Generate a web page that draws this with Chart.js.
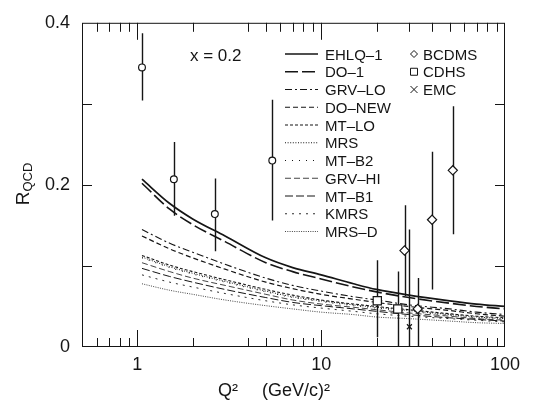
<!DOCTYPE html>
<html>
<head>
<meta charset="utf-8">
<script src="https://cdn.jsdelivr.net/npm/chart.js@4.4.1/dist/chart.umd.min.js"></script>
<style>
  html, body { margin: 0; padding: 0; background: #fff; }
  #wrap { width: 537px; height: 407px; }
</style>
</head>
<body>
<div id="wrap"><canvas id="grafico" width="537" height="407"></canvas></div>
<script>
// Q2 points where the QCD curves were read
const q2Curve = [1.06, 1.5, 2, 3, 5, 7, 10, 15, 20, 30, 50, 70, 100]

const ehlq1 = [0.207, 0.177, 0.158, 0.137, 0.110, 0.098, 0.089, 0.078, 0.071, 0.064, 0.057, 0.053, 0.050]
const do1   = [0.202, 0.170, 0.151, 0.130, 0.104, 0.093, 0.084, 0.074, 0.068, 0.061, 0.054, 0.050, 0.047]
const grvLo = [0.145, 0.128, 0.117, 0.102, 0.085, 0.076, 0.069, 0.062, 0.058, 0.052, 0.047, 0.043, 0.040]
const doNew = [0.137, 0.121, 0.110, 0.096, 0.080, 0.072, 0.065, 0.059, 0.055, 0.050, 0.045, 0.041, 0.038]
const mtLo  = [0.113, 0.101, 0.093, 0.083, 0.071, 0.064, 0.058, 0.053, 0.050, 0.046, 0.041, 0.038, 0.036]
const mrs   = [0.111, 0.099, 0.091, 0.081, 0.069, 0.062, 0.057, 0.052, 0.049, 0.045, 0.040, 0.037, 0.035]
const mtB2  = [0.110, 0.098, 0.090, 0.080, 0.068, 0.061, 0.056, 0.051, 0.048, 0.044, 0.039, 0.036, 0.034]
const grvHi = [0.104, 0.093, 0.085, 0.076, 0.065, 0.058, 0.053, 0.049, 0.046, 0.042, 0.038, 0.035, 0.033]
const mtB1  = [0.097, 0.087, 0.080, 0.071, 0.061, 0.055, 0.051, 0.047, 0.044, 0.040, 0.036, 0.034, 0.032]
const kmrs  = [0.089, 0.080, 0.074, 0.066, 0.057, 0.052, 0.048, 0.044, 0.041, 0.038, 0.035, 0.033, 0.031]
const mrsD  = [0.078, 0.070, 0.065, 0.058, 0.051, 0.047, 0.043, 0.040, 0.037, 0.035, 0.032, 0.030, 0.029]

// data points (open circles, no legend entry)
const circQ2 = [1.06, 1.58, 2.64, 5.42]
const circR  = [0.345, 0.207, 0.164, 0.230]
const circLo = [0.304, 0.162, 0.118, 0.156]
const circHi = [0.387, 0.253, 0.208, 0.305]

const bcdmsQ2 = [28.4, 33.5, 40.1, 52.0]
const bcdmsR  = [0.119, 0.047, 0.157, 0.218]
const bcdmsLo = [0.063, -0.02, 0.071, 0.139]
const bcdmsHi = [0.175, 0.085, 0.241, 0.297]

const cdhsQ2 = [20.2, 26.1]
const cdhsR  = [0.057, 0.047]
const cdhsLo = [0.012, -0.02]
const cdhsHi = [0.107, 0.093]

const emcQ2 = [30.2]
const emcR  = [0.025]
const emcLo = [-0.02]
const emcHi = [0.145]

const xLabels = [1, 10, 100]
const yLabels = [0, 0.2, 0.4]
const xMinor = [0.6, 0.7, 0.8, 0.9, 2, 4, 5, 6, 7, 8, 9, 20, 30, 40, 50, 60, 70, 80, 90]
const xMajor = [1, 10]
const yMinor = [0.1, 0.2, 0.3]

const FONT = '"Liberation Sans", Arial, Helvetica, sans-serif'
const INK = '#151515'

function curve(label, vals, dash, width) {
    return {
        type: 'line',
        label,
        data: q2Curve.map((q, i) => ({ x: q, y: vals[i] })),
        borderColor: INK,
        borderWidth: width,
        borderDash: dash,
        pointRadius: 0,
        cubicInterpolationMode: 'monotone',
        fill: false,
        isCurve: true
    }
}

function points(label, xs, ys, lo, hi, style, r, inLegend) {
    return {
        type: 'scatter',
        label,
        data: xs.map((q, i) => ({ x: q, y: ys[i], lo: lo[i], hi: hi[i] })),
        pointStyle: style,
        pointRadius: r,
        borderColor: INK,
        borderWidth: 1.2,
        backgroundColor: '#fff',
        inLegend
    }
}

const datasets = [
    points('SLAC', circQ2, circR, circLo, circHi, 'circle', 3.4, false),
    points('BCDMS', bcdmsQ2, bcdmsR, bcdmsLo, bcdmsHi, 'rectRot', 4.6, true),
    points('CDHS', cdhsQ2, cdhsR, cdhsLo, cdhsHi, 'rect', 5.8, true),
    points('EMC', emcQ2, emcR, emcLo, emcHi, 'crossRot', 3.5, true),
    curve('EHLQ–1', ehlq1, [], 1.7),
    curve('DO–1', do1, [13, 4], 1.6),
    curve('GRV–LO', grvLo, [7, 3, 2, 3], 1.1),
    curve('DO–NEW', doNew, [5, 3], 1.2),
    curve('MT–LO', mtLo, [3, 2], 1.1),
    curve('MRS', mrs, [1, 1.6], 1),
    curve('MT–B2', mtB2, [1, 6], 1),
    curve('GRV–HI', grvHi, [6, 3], 0.8),
    curve('MT–B1', mtB1, [8, 3], 1),
    curve('KMRS', kmrs, [2, 5], 0.9),
    curve('MRS–D', mrsD, [1, 1.3], 0.8)
]

function marker(ctx, style, x, y, r) {
    ctx.beginPath()
    if (style === 'rectRot') {
        ctx.moveTo(x, y - r); ctx.lineTo(x + r, y); ctx.lineTo(x, y + r); ctx.lineTo(x - r, y); ctx.closePath()
        ctx.fill(); ctx.stroke()
    } else if (style === 'rect') {
        ctx.rect(x - r, y - r, 2 * r, 2 * r); ctx.fill(); ctx.stroke()
    } else {
        ctx.moveTo(x - r, y - r); ctx.lineTo(x + r, y + r)
        ctx.moveTo(x + r, y - r); ctx.lineTo(x - r, y + r); ctx.stroke()
    }
}

const decor = {
    id: 'decor',
    beforeDatasetsDraw(chart) {
        // error bars
        const { ctx, chartArea: a, scales: { x, y } } = chart
        ctx.save()
        ctx.beginPath(); ctx.rect(a.left, a.top, a.right - a.left, a.bottom - a.top); ctx.clip()
        ctx.strokeStyle = INK; ctx.lineWidth = 1.4
        chart.data.datasets.forEach(ds => {
            if (ds.isCurve) return
            ds.data.forEach(p => {
                const px = Math.round(x.getPixelForValue(p.x)) + 0.5
                ctx.beginPath()
                ctx.moveTo(px, y.getPixelForValue(p.lo))
                ctx.lineTo(px, y.getPixelForValue(p.hi))
                ctx.stroke()
            })
        })
        ctx.restore()
    },
    afterDraw(chart) {
        const { ctx, chartArea: a, scales: { x, y } } = chart
        ctx.save()
        ctx.strokeStyle = INK; ctx.lineWidth = 1
        ctx.strokeRect(a.left + 0.5, a.top + 0.5, a.right - a.left - 1, a.bottom - a.top - 1)

        // inward ticks
        ctx.beginPath()
        xMinor.forEach(v => {
            const px = Math.round(x.getPixelForValue(v)) + 0.5
            ctx.moveTo(px, a.bottom); ctx.lineTo(px, a.bottom - 9)
            ctx.moveTo(px, a.top); ctx.lineTo(px, a.top + 9)
        })
        xMajor.forEach(v => {
            const px = Math.round(x.getPixelForValue(v)) + 0.5
            ctx.moveTo(px, a.bottom); ctx.lineTo(px, a.bottom - 17)
            ctx.moveTo(px, a.top); ctx.lineTo(px, a.top + 17)
        })
        yMinor.forEach(v => {
            const py = Math.round(y.getPixelForValue(v)) + 0.5
            ctx.moveTo(a.left, py); ctx.lineTo(a.left + 10, py)
            ctx.moveTo(a.right, py); ctx.lineTo(a.right - 10, py)
        })
        ctx.stroke()

        // x = 0.2
        ctx.fillStyle = INK
        ctx.textBaseline = 'alphabetic'
        ctx.font = '17px ' + FONT
        ctx.fillText('x = 0.2', 190, 61)

        // legend: curves in the left column, markers in the right one
        ctx.font = '15px ' + FONT
        let row = 0
        chart.data.datasets.filter(ds => ds.isCurve).forEach(ds => {
            const cy = 54 + row * 17.75
            ctx.save()
            ctx.lineWidth = ds.borderWidth
            ctx.setLineDash(ds.borderDash)
            ctx.beginPath(); ctx.moveTo(285, cy); ctx.lineTo(318, cy); ctx.stroke()
            ctx.restore()
            ctx.fillText(ds.label, 325, cy + 5.5)
            row++
        })
        row = 0
        chart.data.datasets.filter(ds => ds.inLegend).forEach(ds => {
            const cy = 54 + row * 17.75
            ctx.save()
            ctx.fillStyle = '#fff'; ctx.lineWidth = 1
            marker(ctx, ds.pointStyle, 414, cy, 3.5)
            ctx.restore()
            ctx.fillText(ds.label, 423, cy + 5.5)
            row++
        })

        // axis titles
        ctx.font = '18px ' + FONT
        ctx.fillText('Q²', 218, 396)
        ctx.fillText('(GeV/c)²', 262, 396)

        ctx.translate(29, 184)
        ctx.rotate(-Math.PI / 2)
        ctx.font = '19px ' + FONT
        const wR = ctx.measureText('R').width
        ctx.font = '13px ' + FONT
        const wS = ctx.measureText('QCD').width
        const x0 = -(wR + wS) / 2
        ctx.font = '19px ' + FONT
        ctx.fillText('R', x0, 0)
        ctx.font = '13px ' + FONT
        ctx.fillText('QCD', x0 + wR, 3)
        ctx.restore()
    }
}

const ctx = document.getElementById('grafico')

new Chart(ctx, {
    data: { datasets },
    options: {
        responsive: false,
        animation: false,
        layout: { padding: { top: 15, right: 32, left: 0, bottom: 0 } },
        plugins: { legend: { display: false }, tooltip: { enabled: false } },
        scales: {
            x: {
                type: 'logarithmic',
                min: 0.5,
                max: 100,
                grid: { display: false, drawTicks: false },
                border: { display: false },
                afterBuildTicks: s => { s.ticks = xLabels.map(v => ({ value: v })) },
                afterFit: s => { s.height = 60 },
                ticks: {
                    color: INK,
                    padding: 7,
                    maxRotation: 0,
                    font: { family: FONT, size: 18 },
                    callback: v => String(v)
                }
            },
            y: {
                type: 'linear',
                min: 0,
                max: 0.4,
                grid: { display: false, drawTicks: false },
                border: { display: false },
                afterBuildTicks: s => { s.ticks = yLabels.map(v => ({ value: v })) },
                afterFit: s => { s.width = 82 },
                ticks: {
                    color: INK,
                    padding: 12,
                    font: { family: FONT, size: 18 },
                    callback: v => v === 0 ? '0' : v.toFixed(1)
                }
            }
        }
    },
    plugins: [decor]
})
</script>
</body>
</html>
